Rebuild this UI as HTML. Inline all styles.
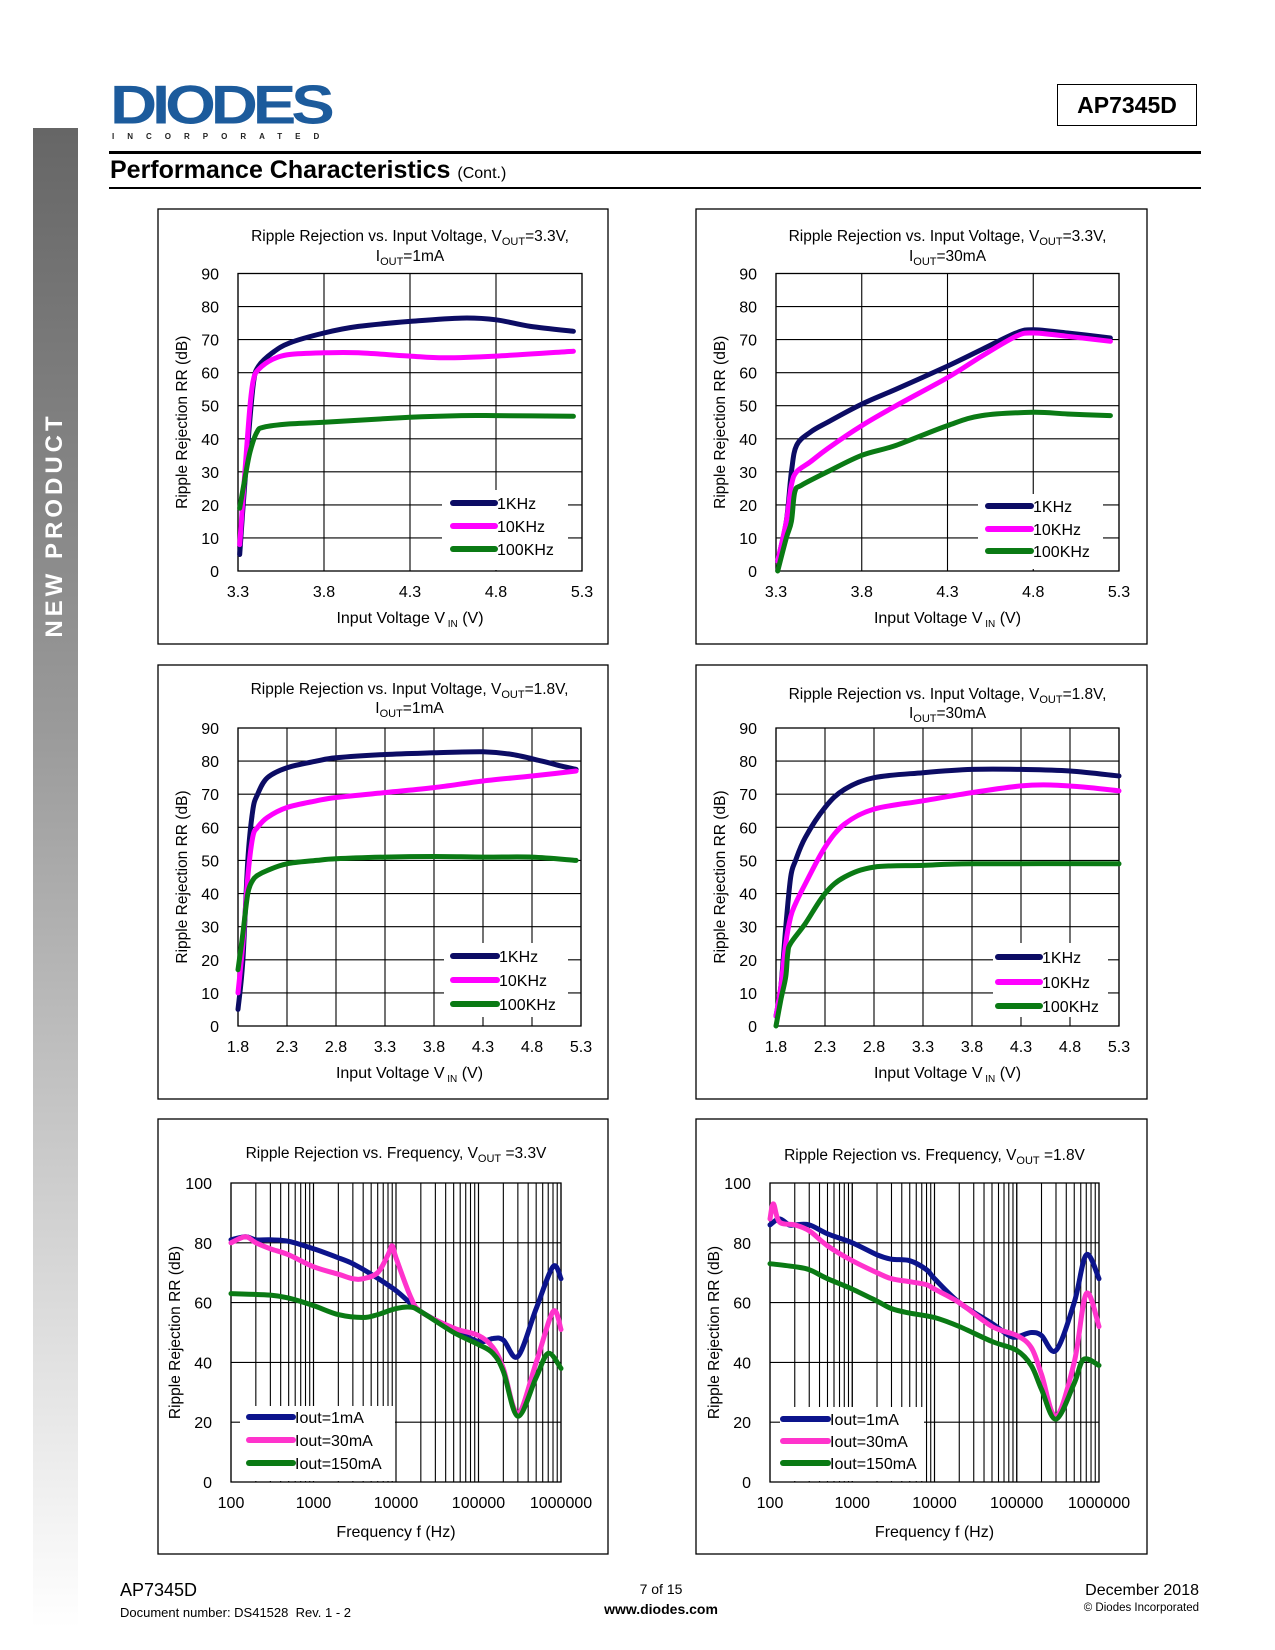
<!DOCTYPE html>
<html><head><meta charset="utf-8">
<style>
html,body{margin:0;padding:0;background:#fff;}
body{width:1275px;height:1650px;position:relative;overflow:hidden;font-family:"Liberation Sans",Arial,sans-serif;}
.abs{position:absolute;}
</style></head>
<body>
<div class="abs" style="left:33px;top:128px;width:45px;height:1500px;background:linear-gradient(#666 0%,#9a9a9a 40%,#e6e6e6 85%,#fff 100%);"></div>
<div class="abs" style="left:-60px;top:510px;width:230px;height:30px;transform:rotate(-90deg);color:#fff;font-weight:bold;font-size:24px;letter-spacing:4px;text-align:center;line-height:30px;">NEW PRODUCT</div>

<div class="abs" style="left:110px;top:80px;width:225px;height:70px;">
  <div style="font-family:'Liberation Sans',sans-serif;font-weight:900;font-size:64px;color:#1c5b9c;letter-spacing:-5px;line-height:58px;transform:scale(1.02,0.85);transform-origin:top left;">DIODES</div>
  <div style="position:absolute;left:2px;top:52px;font-size:8px;font-weight:bold;color:#222;letter-spacing:13px;">INCORPORATED</div>
</div>
<div class="abs" style="left:1057px;top:84px;width:138px;height:40px;border:1.5px solid #000;font-weight:bold;font-size:23px;line-height:40px;text-align:center;">AP7345D</div>
<div class="abs" style="left:109px;top:151px;width:1092px;height:3px;background:#000;"></div>
<div class="abs" style="left:110px;top:156px;font-weight:bold;font-size:25px;">Performance Characteristics <span style="font-weight:normal;font-size:16px;">(Cont.)</span></div>
<div class="abs" style="left:109px;top:187px;width:1092px;height:2px;background:#000;"></div>

<svg id="charts" class="abs" style="left:0;top:0" width="1275" height="1650"></svg>

<div class="abs" style="left:120px;top:1580px;font-size:18px;">AP7345D</div>
<div class="abs" style="left:120px;top:1605px;font-size:13px;">Document number: DS41528&nbsp; Rev. 1 - 2</div>
<div class="abs" style="left:561px;width:200px;text-align:center;top:1581px;font-size:14px;">7 of 15</div>
<div class="abs" style="left:561px;width:200px;text-align:center;top:1601px;font-size:14px;font-weight:bold;">www.diodes.com</div>
<div class="abs" style="right:76px;top:1582px;font-size:16px;">December 2018</div>
<div class="abs" style="right:76px;top:1602px;font-size:11.5px;">© Diodes Incorporated</div>

<script>
// ---- Chart 1: Vout=3.3V, Iout=1mA ----
const c1x_1k=[3.31,3.33,3.36,3.39,3.42,3.5,3.6,3.8,4.0,4.3,4.6,4.8,5.0,5.25];
const c1y_1k=[5,20,40,57,62,66,69,72,74,75.5,76.5,76,74,72.5];
const c1x_10k=[3.31,3.34,3.37,3.39,3.42,3.5,3.6,3.8,4.0,4.3,4.5,4.8,5.25];
const c1y_10k=[8,30,50,58,61,64,65.5,66,66,65,64.5,65,66.5];
const c1x_100k=[3.31,3.34,3.37,3.41,3.45,3.6,3.8,4.3,4.6,4.8,5.25];
const c1y_100k=[19,28,36,42,43.5,44.5,45,46.5,47,47,46.8];
// ---- Chart 2: Vout=3.3V, Iout=30mA ----
const c2x_1k=[3.31,3.36,3.39,3.42,3.5,3.6,3.8,4.0,4.3,4.5,4.7,4.8,5.0,5.25];
const c2y_1k=[3,15,30,38,42,45,50.5,55,62,67,72,73,72,70.5];
const c2x_10k=[3.31,3.36,3.39,3.42,3.5,3.6,3.8,4.0,4.3,4.5,4.7,4.8,5.0,5.25];
const c2y_10k=[3,15,26,30,33,37,44,50,58.5,65,71,72,71,69.5];
const c2x_100k=[3.31,3.36,3.39,3.41,3.45,3.6,3.8,4.0,4.3,4.5,4.8,5.0,5.25];
const c2y_100k=[0,10,15,24,26,30,35,38,44,47,48,47.5,47];
// ---- Chart 3: Vout=1.8V, Iout=1mA ----
const c3x_1k=[1.8,1.85,1.9,1.95,2.0,2.1,2.3,2.6,2.8,3.3,3.8,4.3,4.6,4.9,5.1,5.25];
const c3y_1k=[5,20,50,65,70,75,78,80,81,82,82.5,82.8,82,80,78.5,77.5];
const c3x_10k=[1.8,1.85,1.9,1.95,2.0,2.1,2.3,2.6,2.8,3.3,3.8,4.3,4.8,5.25];
const c3y_10k=[10,25,45,57,60,63,66,68,69,70.5,72,74,75.5,77];
const c3x_100k=[1.8,1.85,1.9,1.95,2.0,2.1,2.3,2.6,2.8,3.3,3.8,4.3,4.8,5.25];
const c3y_100k=[17,28,40,44,45.5,47,49,50,50.5,51,51.2,51,51,50];
// ---- Chart 4: Vout=1.8V, Iout=30mA ----
const c4x_1k=[1.8,1.85,1.9,1.95,2.0,2.1,2.3,2.5,2.8,3.3,3.8,4.3,4.8,5.3];
const c4y_1k=[3,12,30,45,50,57,66,71.5,75,76.5,77.5,77.5,77,75.5];
const c4x_10k=[1.8,1.85,1.9,1.95,2.0,2.1,2.3,2.5,2.8,3.3,3.8,4.3,4.6,5.0,5.3];
const c4y_10k=[3,12,25,33,37,43,54,61,65.5,68,70.5,72.5,72.8,72,71];
const c4x_100k=[1.8,1.85,1.9,1.92,1.95,2.1,2.3,2.5,2.8,3.3,3.8,5.3];
const c4y_100k=[0,8,15,22,25,31,40,45,48,48.5,49,49];
// ---- Chart 5: RR vs frequency, Vout=3.3V ----
const c5x_1m=[100,150,200,300,500,1000,2000,3000,5000,10000,20000,50000,100000,150000,200000,300000,500000,800000,1000000];
const c5y_1m=[81,82,81,81,80.5,78,75,73,69.5,64,57,51,47,48,47.5,42,58,72,68];
const c5x_30m=[100,150,200,300,500,1000,2000,3000,4000,6000,8000,9000,10000,15000,20000,50000,100000,150000,200000,300000,500000,800000,1000000];
const c5y_30m=[80,82,80,78,76,72,69.5,68,68,70,76,79,75,62,57,51.5,49,45,38,23,40,57,51];
const c5x_150m=[100,300,500,1000,2000,4000,6000,10000,15000,20000,50000,100000,150000,200000,300000,500000,700000,1000000];
const c5y_150m=[63,62.5,61.5,59,56,55,56,58,58.5,57,50,46,43,37,22,35,43,38];
// ---- Chart 6: RR vs frequency, Vout=1.8V ----
const c6x_1m=[100,130,170,200,300,500,1000,2000,3000,5000,8000,10000,20000,50000,80000,100000,150000,200000,300000,500000,700000,1000000];
const c6y_1m=[86,88,86,86,86,83,80,76,74.5,74,71,68,60,53,49,48.5,50,49,44,60,76,68];
const c6x_30m=[100,110,130,200,300,500,1000,2000,3000,5000,8000,10000,20000,50000,100000,150000,200000,300000,500000,700000,1000000];
const c6y_30m=[88,93,87,86,84,79,74,70,68,67,66,64.5,60,52,49,45,36,22,40,63,52];
const c6x_150m=[100,200,300,500,1000,2000,3000,5000,10000,20000,50000,100000,150000,200000,300000,500000,650000,1000000];
const c6y_150m=[73,72,71,68,64.5,60.5,58,56.5,55,52,47,44,39,31,21,33,41,39];

const voltTicks1=["3.3","3.8","4.3","4.8","5.3"];
const voltTicks2=["1.8","2.3","2.8","3.3","3.8","4.3","4.8","5.3"];
const freqTicks=["100","1000","10000","100000","1000000"];
const rrTicks90=[0,10,20,30,40,50,60,70,80,90];
const rrTicks100=[0,20,40,60,80,100];
const legV=["1KHz","10KHz","100KHz"];
const legF=["Iout=1mA","Iout=30mA","Iout=150mA"];

const NS="http://www.w3.org/2000/svg";
const svg=document.getElementById('charts');
function mk(tag,attrs,parent){const e=document.createElementNS(NS,tag);for(const k in attrs)e.setAttribute(k,attrs[k]);(parent||svg).appendChild(e);return e;}

const colV=["#0c0c64","#ff00ff","#0a7a14"];
const colF=["#0c148c","#ff33cc","#0a7a14"];

const charts=[
 {name:"rr-vin-3v3-1ma",box:[158,209,608,644],p:[238,273.5,582,571],log:false,xmin:3.3,xmax:5.3,xt:voltTicks1,ymax:90,yt:rrTicks90,
  t1:["Ripple  Rejection  vs.  Input Voltage, V","OUT","=3.3V,"],t2:["I","OUT","=1mA"],tb:[241,261],
  s:[[c1x_1k,c1y_1k],[c1x_10k,c1y_10k],[c1x_100k,c1y_100k]],leg:legV,col:colV,lx:[453,495],ly:[503,526,549],lb:[442,490,126,80]},
 {name:"rr-vin-3v3-30ma",box:[696,209,1147,644],p:[776,273.5,1119,571],log:false,xmin:3.3,xmax:5.3,xt:voltTicks1,ymax:90,yt:rrTicks90,
  t1:["Ripple  Rejection  vs.  Input Voltage, V","OUT","=3.3V,"],t2:["I","OUT","=30mA"],tb:[241,261],
  s:[[c2x_1k,c2y_1k],[c2x_10k,c2y_10k],[c2x_100k,c2y_100k]],leg:legV,col:colV,lx:[988,1031],ly:[506,529,551],lb:[978,494,125,75]},
 {name:"rr-vin-1v8-1ma",box:[158,665,608,1099],p:[238,728,581,1026],log:false,xmin:1.8,xmax:5.3,xt:voltTicks2,ymax:90,yt:rrTicks90,
  t1:["Ripple  Rejection  vs.  Input Voltage, V","OUT","=1.8V,"],t2:["I","OUT","=1mA"],tb:[694,713],
  s:[[c3x_1k,c3y_1k],[c3x_10k,c3y_10k],[c3x_100k,c3y_100k]],leg:legV,col:colV,lx:[453,497],ly:[956,980,1004],lb:[444,943,124,74]},
 {name:"rr-vin-1v8-30ma",box:[696,665,1147,1099],p:[776,728,1119,1026],log:false,xmin:1.8,xmax:5.3,xt:voltTicks2,ymax:90,yt:rrTicks90,
  t1:["Ripple  Rejection  vs.  Input Voltage, V","OUT","=1.8V,"],t2:["I","OUT","=30mA"],tb:[699,718],
  s:[[c4x_1k,c4y_1k],[c4x_10k,c4y_10k],[c4x_100k,c4y_100k]],leg:legV,col:colV,lx:[998,1040],ly:[957,982,1006],lb:[993,943,115,74]},
 {name:"rr-freq-3v3",box:[158,1119,608,1554],p:[231,1183,561,1482],log:true,xt:freqTicks,ymax:100,yt:rrTicks100,
  t1:["Ripple  Rejection  vs.  Frequency, V","OUT"," =3.3V"],t2:null,tb:[1158],
  s:[[c5x_1m,c5y_1m],[c5x_30m,c5y_30m],[c5x_150m,c5y_150m]],leg:legF,col:colF,lx:[249,293],ly:[1417,1440,1463],lb:[240,1406,155,75]},
 {name:"rr-freq-1v8",box:[696,1119,1147,1554],p:[770,1183,1099,1482],log:true,xt:freqTicks,ymax:100,yt:rrTicks100,
  t1:["Ripple  Rejection  vs.  Frequency, V","OUT"," =1.8V"],t2:null,tb:[1160],
  s:[[c6x_1m,c6y_1m],[c6x_30m,c6y_30m],[c6x_150m,c6y_150m]],leg:legF,col:colF,lx:[783,828],ly:[1419,1441,1463],lb:[780,1407,144,74]}
];

function titleText(g,parts,cx,y){
  const t=mk('text',{x:cx,y:y,'text-anchor':'middle','font-size':'15.5','font-family':'Liberation Sans, sans-serif',fill:'#000'},g);
  const a=document.createElementNS(NS,'tspan');a.textContent=parts[0];t.appendChild(a);
  const b=document.createElementNS(NS,'tspan');b.setAttribute('font-size','11');b.setAttribute('dy','4');b.textContent=parts[1];t.appendChild(b);
  const c=document.createElementNS(NS,'tspan');c.setAttribute('dy','-4');c.textContent=parts[2];t.appendChild(c);
}
function smoothPath(P){
  let d='M'+P[0][0].toFixed(1)+','+P[0][1].toFixed(1);
  for(let i=0;i<P.length-1;i++){
    const p0=P[Math.max(0,i-1)],p1=P[i],p2=P[i+1],p3=P[Math.min(P.length-1,i+2)];
    const c1x=p1[0]+(p2[0]-p0[0])/6,c1y=p1[1]+(p2[1]-p0[1])/6;
    const c2x=p2[0]-(p3[0]-p1[0])/6,c2y=p2[1]-(p3[1]-p1[1])/6;
    d+=` C${c1x.toFixed(1)},${c1y.toFixed(1)} ${c2x.toFixed(1)},${c2y.toFixed(1)} ${p2[0].toFixed(1)},${p2[1].toFixed(1)}`;
  }
  return d;
}

charts.forEach(ch=>{
  const g=mk('g',{});
  
  
  const [l,t,r,b]=ch.p;
  const X=ch.log?(v=>l+(Math.log10(v)-2)/4*(r-l)):(v=>l+(v-ch.xmin)/(ch.xmax-ch.xmin)*(r-l));
  const Y=v=>b-v/ch.ymax*(b-t);
  const bx=mk('rect',{x:ch.box[0],y:ch.box[1],width:ch.box[2]-ch.box[0],height:ch.box[3]-ch.box[1],fill:'#fff',stroke:'#000','stroke-width':1.3},g);
  
  
  const cx=(l+r)/2;
  titleText(g,ch.t1,cx,ch.tb[0]);
  if(ch.t2) titleText(g,ch.t2,cx,ch.tb[1]);
  const grid=mk('g',{stroke:'#000','stroke-width':1.1},g);
  
  
  ch.yt.forEach(v=>{mk('line',{x1:l,x2:r,y1:Y(v),y2:Y(v)},grid);});
  if(ch.log){
    for(let d=100;d<1000000;d*=10){for(let k=1;k<=10;k++){const xv=X(d*k);mk('line',{x1:xv,x2:xv,y1:t,y2:b},grid);}}
  } else {
    ch.xt.forEach(s=>{const xv=X(parseFloat(s));mk('line',{x1:xv,x2:xv,y1:t,y2:b},grid);});
  }
  const lb=mk('rect',{x:ch.lb[0],y:ch.lb[1],width:ch.lb[2],height:ch.lb[3],fill:'#fff'},g);
  
  
  mk('rect',{x:l,y:t,width:r-l,height:b-t,fill:'none',stroke:'#000','stroke-width':1.3},g);
  ch.yt.forEach(v=>{const tx=mk('text',{x:l-19,y:Y(v)+6,'text-anchor':'end','font-size':'16',fill:'#000'},g);tx.textContent=v;
    
    });
  ch.xt.forEach(s=>{const xv=X(parseFloat(s));const tx=mk('text',{x:xv,y:b+26,'text-anchor':'middle','font-size':'16',fill:'#000'},g);tx.textContent=s;
    
    });
  const yt=mk('text',{x:0,y:0,'text-anchor':'middle','font-size':'15.5',fill:'#000',transform:`translate(${l-51},${(t+b)/2}) rotate(-90)`},g);
  yt.textContent='Ripple Rejection RR (dB)';
  
  
  const xtT=mk('text',{x:cx,y:b+(ch.log?55:52),'text-anchor':'middle','font-size':'16',fill:'#000'},g);
  
  
  if(ch.log){xtT.textContent='Frequency f (Hz)';}
  else{const a=document.createElementNS(NS,'tspan');a.textContent='Input Voltage V';xtT.appendChild(a);
    const s2=document.createElementNS(NS,'tspan');s2.setAttribute('font-size','10');s2.setAttribute('dy','4');s2.textContent=' IN';xtT.appendChild(s2);
    const c=document.createElementNS(NS,'tspan');c.setAttribute('dy','-4');c.textContent=' (V)';xtT.appendChild(c);}
  ch.s.forEach((sr,i)=>{
    const P=sr[0].map((xv,j)=>[X(xv),Y(sr[1][j])]);
    const pl=mk('path',{d:smoothPath(P),fill:'none',stroke:ch.col[i],'stroke-width':5,'stroke-linejoin':'round','stroke-linecap':'round'},g);
    
    
    const ll=mk('line',{x1:ch.lx[0],x2:ch.lx[1],y1:ch.ly[i],y2:ch.ly[i],stroke:ch.col[i],'stroke-width':6,'stroke-linecap':'round'},g);
    
    
    const lt=mk('text',{x:ch.lx[1]+2,y:ch.ly[i]+6,'font-size':'16',fill:'#000'},g);
    lt.textContent=ch.leg[i];
    
    
  });
});
</script>
</body></html>
